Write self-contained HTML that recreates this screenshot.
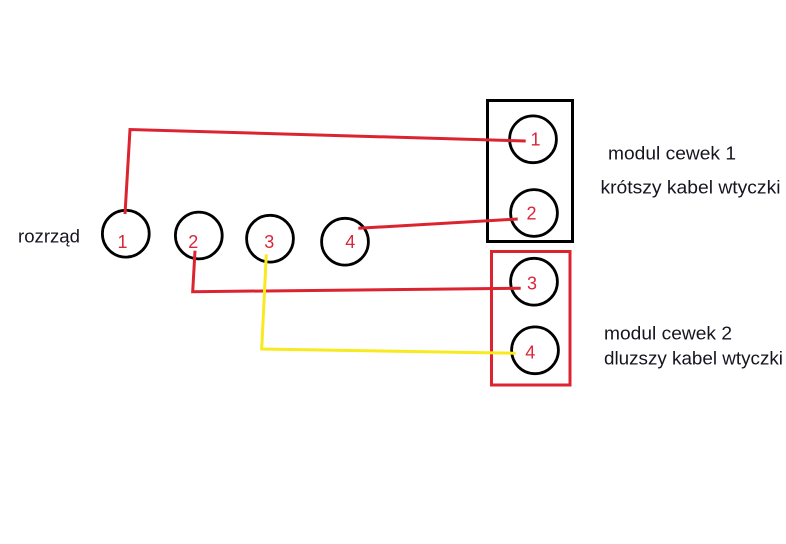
<!DOCTYPE html>
<html><head><meta charset="utf-8">
<style>
html,body{margin:0;padding:0;background:#fff}
svg{display:block}
text{font-family:"Liberation Sans",sans-serif}
.n{fill:#d9263a;font-size:18px;text-anchor:middle}
.l{fill:#151520;font-size:18px}
</style></head><body>
<svg width="786" height="544" viewBox="0 0 786 544" xmlns="http://www.w3.org/2000/svg">
<rect width="786" height="544" fill="#fff"/>
<rect x="487.5" y="100.5" width="85" height="141" fill="none" stroke="#000" stroke-width="3"/>
<g fill="none" stroke="#000" stroke-width="2.8">
<circle cx="125.8" cy="233.7" r="23.4"/>
<circle cx="198.8" cy="235.5" r="23.4"/>
<circle cx="270" cy="238.7" r="23.4"/>
<circle cx="345" cy="241.7" r="23.4"/>
<circle cx="533" cy="139.3" r="23.4"/>
<circle cx="534" cy="213" r="23.4"/>
<circle cx="534" cy="281.7" r="23.4"/>
<circle cx="535" cy="350.3" r="23.4"/>
</g>
<rect x="491.5" y="251.5" width="78.5" height="133.5" fill="none" stroke="#dc2330" stroke-width="3"/>
<g fill="none" stroke="#dc2330" stroke-width="3">
<polyline points="125,214 130,129.5 525.7,141"/>
<line x1="358.3" y1="228.3" x2="517.7" y2="219"/>
<polyline points="195,250.7 192.7,291.7 520.7,288.3"/>
</g>
<polyline points="266.3,254.3 261.7,349 515.7,353.3" fill="none" stroke="#f7ea1e" stroke-width="3"/>
<text class="n" x="122.5" y="248">1</text>
<text class="n" x="193.3" y="248">2</text>
<text class="n" x="269.2" y="248">3</text>
<text class="n" x="350.3" y="248">4</text>
<text class="n" x="535.5" y="145.3">1</text>
<text class="n" x="531.5" y="219.3">2</text>
<text class="n" x="532" y="289.3">3</text>
<text class="n" x="530.3" y="358.3">4</text>
<text class="l" x="18" y="242.7" textLength="62" lengthAdjust="spacingAndGlyphs">rozrząd</text>
<text class="l" x="608" y="159.3" textLength="128" lengthAdjust="spacingAndGlyphs">modul cewek 1</text>
<text class="l" x="600.5" y="193.3" textLength="180" lengthAdjust="spacingAndGlyphs">krótszy kabel wtyczki</text>
<text class="l" x="604" y="339.3" textLength="128" lengthAdjust="spacingAndGlyphs">modul cewek 2</text>
<text class="l" x="604" y="364.3" textLength="179" lengthAdjust="spacingAndGlyphs">dluzszy kabel wtyczki</text>
</svg>
</body></html>
